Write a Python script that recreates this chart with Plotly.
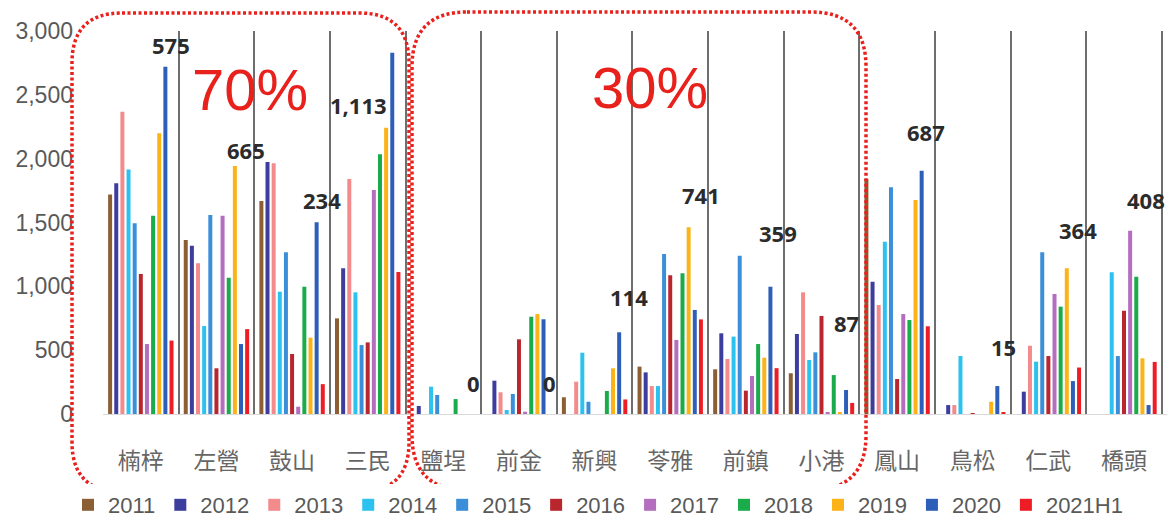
import plotly.graph_objects as go

# Districts (x categories)
districts = ["楠梓", "左營", "鼓山", "三民", "鹽埕", "前金", "新興",
             "苓雅", "前鎮", "小港", "鳳山", "鳥松", "仁武", "橋頭"]

# Yearly values per district
v2011 = [1720, 1363, 1668, 749, 0, 0, 131, 371, 350, 319, 1841, 0, 0, 0]
v2012 = [1807, 1318, 1974, 1141, 63, 261, 0, 326, 632, 627, 1036, 70, 175, 0]
v2013 = [2368, 1180, 1964, 1841, 0, 170, 253, 219, 431, 953, 854, 70, 535, 0]
v2014 = [1916, 689, 958, 953, 214, 31, 480, 219, 606, 423, 1350, 454, 410, 1110]
v2015 = [1494, 1559, 1266, 540, 149, 157, 96, 1253, 1240, 483, 1776, 0, 1266, 454]
v2016 = [1097, 358, 470, 561, 0, 585, 0, 1086, 183, 768, 274, 5, 454, 809]
v2017 = [548, 1553, 57, 1755, 0, 18, 0, 580, 298, 13, 783, 0, 940, 1436]
v2018 = [1553, 1068, 997, 2034, 117, 762, 180, 1102, 548, 305, 736, 0, 841, 1076]
v2019 = [2199, 1943, 598, 2243, 0, 783, 358, 1462, 441, 13, 1676, 96, 1141, 436]
v2020 = [2720, 548, 1501, 2830, 0, 742, 640, 815, 997, 188, 1906, 219, 258, 70]
v2021h1 = [575, 665, 234, 1113, 0, 0, 114, 741, 359, 87, 687, 15, 364, 408]

series_names = ["2011", "2012", "2013", "2014", "2015", "2016",
                "2017", "2018", "2019", "2020", "2021H1"]
series_values = [v2011, v2012, v2013, v2014, v2015, v2016,
                 v2017, v2018, v2019, v2020, v2021h1]
series_colors = ["#8b5e34", "#3d3d9e", "#f38a8c", "#2cc2ef", "#3b8fd9",
                 "#b9262d", "#b46ebe", "#1aab4b", "#fbb318", "#2d5fb8", "#ee1c25"]

# Placement of the 2021H1 value labels (height in data units, horizontal nudge in px)
label_y = [2890, 2068, 1676, 2420, 243, 243, 916, 1715, 1418, 713, 2209, 525, 1441, 1676]
label_dx = [30, 30, 30, -9, 30, 31, 34, 31, 32, 25, 29, 31, 30, 22]

# Page / plot-area geometry in pixels
W, H = 1173, 520
ML, MR, MT, MB = 103, 6, 31, 106
PW, PH = W - ML - MR, H - MT - MB

def px(x):
    return (x - ML) / PW

def py(y):
    return (H - MB - y) / PH

def rounded_box(x0, y0, x1, y1, r):
    rx, ry = r / PW, r / PH
    a, b, c, d = px(x0), py(y0), px(x1), py(y1)
    return (f"M{a + rx},{b} L{c - rx},{b} Q{c},{b} {c},{b - ry} "
            f"L{c},{d + ry} Q{c},{d} {c - rx},{d} L{a + rx},{d} "
            f"Q{a},{d} {a},{d + ry} L{a},{b - ry} Q{a},{b} {a + rx},{b} Z")

fig = go.Figure()
for name, vals, col in zip(series_names, series_values, series_colors):
    fig.add_trace(go.Bar(x=districts, y=vals, name=name,
                         marker=dict(color=col, line=dict(width=0))))

annotations = []
for d, v, ly, dx in zip(districts, v2021h1, label_y, label_dx):
    annotations.append(dict(x=d, y=ly, xref="x", yref="y", xshift=dx,
                            xanchor="center", yanchor="middle",
                            text=f"{v:,}", showarrow=False,
                            font=dict(family="Open Sans", size=22, color="#2b2b2b",
                                      weight="bold")))

RED = "#e8211d"
for txt, cx, cy in [("70%", 250, 89), ("30%", 650, 88)]:
    annotations.append(dict(x=px(cx), y=py(cy), xref="paper", yref="paper",
                            xanchor="center", yanchor="middle",
                            text=txt, showarrow=False,
                            font=dict(family="Liberation Sans", size=58, color=RED)))

shapes = [
    dict(type="path", xref="paper", yref="paper",
         path=rounded_box(72, 13, 409, 492, 50),
         line=dict(color=RED, width=3.5, dash="3px,2.5px")),
    dict(type="path", xref="paper", yref="paper",
         path=rounded_box(412, 12, 866, 490, 55),
         line=dict(color=RED, width=3.5, dash="3px,2.5px")),
]

fig.update_layout(
    width=W, height=H,
    margin=dict(l=ML, r=MR, t=MT, b=MB, autoexpand=False),
    paper_bgcolor="white", plot_bgcolor="white",
    barmode="group", bargap=0.107, bargroupgap=0.35,
    showlegend=True,
    legend=dict(orientation="h", xanchor="center", yanchor="middle",
                x=px(598), y=py(505), itemwidth=30,
                font=dict(family="Liberation Sans", size=22, color="#595959"),
                traceorder="normal"),
    annotations=annotations,
    shapes=shapes,
)
fig.update_xaxes(type="category", tickson="boundaries", showgrid=True,
                 gridcolor="#6e6e6e", gridwidth=1.5, ticks="",
                 showline=True, linecolor="#d9d9d9", linewidth=1,
                 ticklabelstandoff=26,
                 tickfont=dict(family="Noto Sans CJK TC", size=23, color="#666666"))
fig.update_yaxes(range=[0, 3000], tickvals=[0, 500, 1000, 1500, 2000, 2500, 3000],
                 tickformat=",", showgrid=False, zeroline=False, showline=False,
                 ticks="", ticklabelstandoff=29,
                 tickfont=dict(family="Liberation Sans", size=23, color="#595959"))

fig.write_html("out.html")
